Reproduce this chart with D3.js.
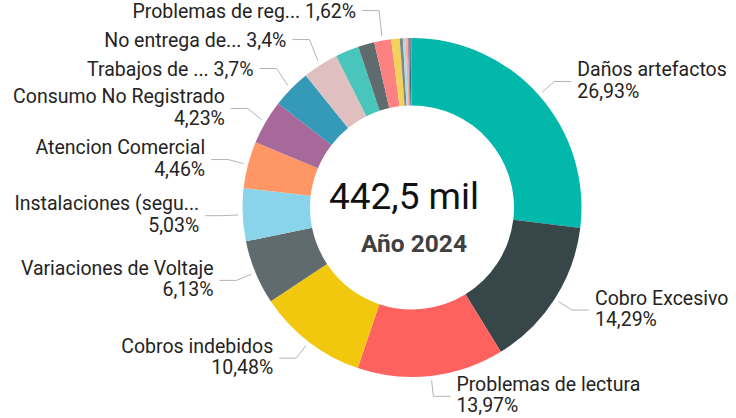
<!DOCTYPE html>
<html>
<head>
<meta charset="utf-8">
<script src="https://cdn.jsdelivr.net/npm/d3@7/dist/d3.min.js"></script>
<style>
  html, body { margin: 0; padding: 0; background: #fff; }
  svg { display: block; font-family: Roboto, "DejaVu Sans", sans-serif; }
</style>
</head>
<body>
<svg id="chart" width="736" height="418"></svg>
<script>
// categories as shown on the chart (truncated names kept as displayed)
const categories = [
  "Daños artefactos",
  "Cobro Excesivo",
  "Problemas de lectura",
  "Cobros indebidos",
  "Variaciones de Voltaje",
  "Instalaciones (segu...",
  "Atencion Comercial",
  "Consumo No Registrado",
  "Trabajos de ...",
  "No entrega de...",
  "Otros reclamos 1",
  "Otros reclamos 2",
  "Problemas de reg...",
  "Otros reclamos 3",
  "Otros reclamos 4",
  "Otros reclamos 5",
  "Otros reclamos 6",
  "Otros reclamos 7",
  "Otros reclamos 8",
  "Otros reclamos 9",
];
// share of total complaints, %
const shares = [26.93, 14.29, 13.97, 10.48, 6.13, 5.03, 4.46, 4.23, 3.7, 3.4,
  2.25, 1.55, 1.62, 0.8, 0.3, 0.25, 0.2, 0.15, 0.14, 0.12];
const colors = ["#01B8AA", "#374649", "#FD625E", "#F2C80F", "#5F6B6D", "#8AD4EB",
  "#FE9666", "#A66999", "#3599B8", "#DFBFBF", "#4AC5BB", "#5F6B6D", "#FB8281",
  "#F4D25A", "#7F898A", "#A4DDEE", "#FDAB89", "#B687AC", "#28738A", "#A78F8F"];
const totalComplaints = 442500;
const yearLabel = "Año 2024";

const rows = categories.map((name, i) => ({ name, share: shares[i], color: colors[i] }));

const cx = 412, cy = 207.5;
const outerR = 169.5, innerR = 102;
const leadStart = 174, leadElbow = 190, leadRun = 17, textGap = 6;
const lineH = 22, labelGap = 7, maxShift = 10;

const es = d3.formatLocale({ decimal: ",", thousands: ".", grouping: [3], currency: ["$", ""] });
const fmtPct = es.format(".2~f");
const fmtMil = es.format(".1f");

const svg = d3.select("#chart");
const g = svg.append("g").attr("transform", `translate(${cx},${cy})`);

const total = d3.sum(rows, d => d.share);
const pie = d3.pie().sort(null).value(d => d.share);
const arc = d3.arc().innerRadius(innerR).outerRadius(outerR);
const arcs = pie(rows);

g.selectAll("path.slice")
  .data(arcs)
  .join("path")
  .attr("class", "slice")
  .attr("d", arc)
  .attr("fill", d => d.data.color);

// label candidates: radial leader to an elbow, then a short horizontal run
const polar = (r, a) => [Math.sin(a) * r, -Math.cos(a) * r];
const cands = arcs.map(a => {
  const mid = (a.startAngle + a.endAngle) / 2;
  const right = mid < Math.PI;
  const lines = a.data.share >= 4 ? 2 : 1;
  const p1 = polar(leadElbow, mid);
  return { a, right, lines, p0: polar(leadStart, mid), x: p1[0], y: p1[1], h: lines * lineH };
});

// greedy: biggest slices first, nudge a little on collision, else drop the label
const placed = [];
const need = (p, c) => (p.h + c.h) / 2 + labelGap;
cands.slice().sort((u, v) => v.a.data.share - u.a.data.share).forEach(c => {
  const y0 = c.y;
  for (let k = 0; k < 6; k++) {
    const p = placed.find(p => p.right === c.right && Math.abs(p.y - c.y) < need(p, c) - 0.01);
    if (!p) break;
    c.y = c.y < p.y ? p.y - need(p, c) : p.y + need(p, c);
  }
  const ok = !placed.some(p => p.right === c.right && Math.abs(p.y - c.y) < need(p, c) - 0.01);
  if (ok && Math.abs(c.y - y0) <= maxShift) placed.push(c);
});

const labels = g.selectAll("g.lbl")
  .data(placed)
  .join("g")
  .attr("class", "lbl");

labels.append("polyline")
  .attr("points", d => {
    const x2 = d.x + (d.right ? leadRun : -leadRun);
    return [d.p0, [d.x, d.y], [x2, d.y]].map(p => p.join(",")).join(" ");
  })
  .attr("fill", "none")
  .attr("stroke", "#b4b4b4")
  .attr("stroke-width", 1);

labels.each(function (d) {
  const pct = fmtPct(d.a.data.share / total * 100) + "%";
  const tx = d.x + (d.right ? leadRun + textGap : -leadRun - textGap);
  const t = d3.select(this).append("text")
    .attr("x", tx)
    .attr("text-anchor", d.right ? "start" : "end")
    .attr("font-size", 19.5)
    .attr("fill", "#252423");
  if (d.lines === 2) {
    t.append("tspan").attr("x", tx).attr("y", d.y - 5.5).text(d.a.data.name);
    t.append("tspan").attr("x", tx).attr("y", d.y + 16).text(pct);
  } else {
    t.attr("y", d.y + 7).text(`${d.a.data.name} ${pct}`);
  }
});

// centre total
g.append("text")
  .attr("x", -8)
  .attr("y", 1.5)
  .attr("text-anchor", "middle")
  .attr("font-size", 37)
  .attr("fill", "#111")
  .text(`${fmtMil(totalComplaints / 1000)} mil`);

g.append("text")
  .attr("x", 2)
  .attr("y", 44.5)
  .attr("text-anchor", "middle")
  .attr("font-size", 24.5)
  .attr("font-weight", "bold")
  .attr("fill", "#404040")
  .text(yearLabel);
</script>
</body>
</html>
